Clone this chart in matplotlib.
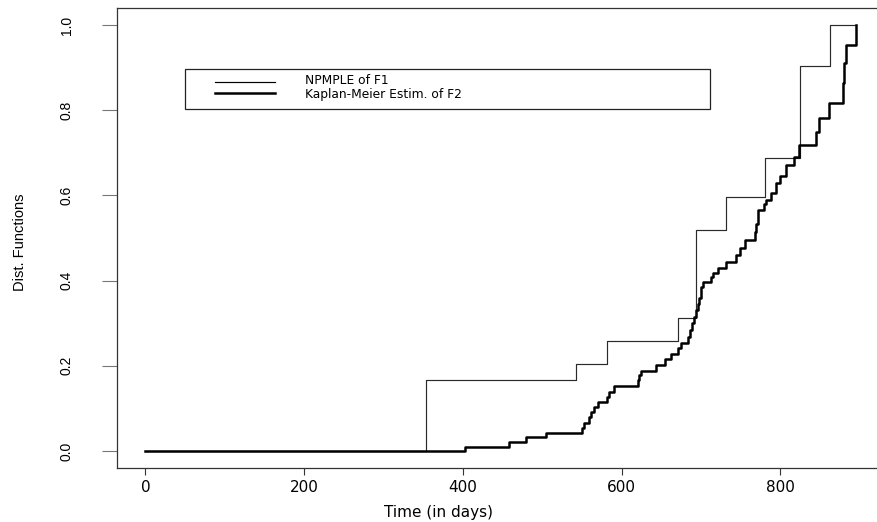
import matplotlib
matplotlib.use("Agg")
import matplotlib.pyplot as plt
from matplotlib.lines import Line2D
from matplotlib.patches import Rectangle

# ---- data ----
npmple_t = [0, 354, 542, 582, 671, 694, 732, 781, 825, 862, 895]
npmple_F = [0.0, 0.1667, 0.204, 0.259, 0.313, 0.519, 0.596, 0.689, 0.905, 1.0, 1.0]

km_t = [0, 403, 458, 479, 505, 550, 553, 558.6, 561.5, 565.7, 570, 581.7, 584.6,
        589.7, 620.3, 622.4, 624.5, 643.4, 654.8, 661.5, 670.7, 674.9, 683.2,
        686.3, 688.5, 690.6, 693, 695.5, 697.4, 699.3, 700.5, 703, 712.7, 714.8,
        721, 731.6, 744.2, 748.4, 754.7, 767.3, 769.4, 771.4, 779.8, 782, 788.3,
        794.6, 800, 807.2, 817.6, 823.9, 845, 849, 861.7, 878.5, 880.6, 882.7, 895.3]
km_F = [0.0, 0.0101, 0.0204, 0.032, 0.043, 0.055, 0.065, 0.079, 0.092, 0.104, 0.116,
        0.1275, 0.139, 0.1526, 0.1667, 0.178, 0.1886, 0.2019, 0.215, 0.2277, 0.241,
        0.2528, 0.268, 0.284, 0.30, 0.315, 0.33, 0.345, 0.36, 0.372, 0.384, 0.397,
        0.409, 0.417, 0.429, 0.444, 0.460, 0.476, 0.495, 0.513, 0.532, 0.566, 0.581,
        0.589, 0.605, 0.628, 0.645, 0.671, 0.691, 0.718, 0.750, 0.781, 0.816, 0.863,
        0.910, 0.953, 1.0]

x_ticks = [0, 200, 400, 600, 800]
y_ticks = [0.0, 0.2, 0.4, 0.6, 0.8, 1.0]
y_ticklabels = ["0.0", "0.2", "0.4", "0.6", "0.8", "1.0"]
legend_labels = ["NPMPLE of F1", "Kaplan-Meier Estim. of F2"]
x_label = "Time (in days)"
y_label = "Dist. Functions"

# ---- figure ----
W, H = 877, 522
fig = plt.figure(figsize=(W / 100, H / 100), dpi=100)

xmin, xmax = 0, max(max(npmple_t), max(km_t))
pad = 0.04 * (xmax - xmin)
xl = (xmin - pad, xmax + pad)
yl = (-0.04, 1.04)

px_per_day = 0.7938
left_px, top_px, bot_px = 117, 8, 468
width_px = (xl[1] - xl[0]) * px_per_day
ax = fig.add_axes([left_px / W, 1 - bot_px / H, width_px / W, (bot_px - top_px) / H])
ax.set_xlim(*xl)
ax.set_ylim(*yl)

ax.plot(npmple_t, npmple_F, drawstyle="steps-post", color="#2a2a2a", lw=0.85)
ax.plot(km_t, km_F, drawstyle="steps-post", color="black", lw=1.8)

for s in ax.spines.values():
    s.set_color("#333333")
    s.set_linewidth(0.9)
ax.spines["right"].set_visible(False)

ax.set_xticks(x_ticks)
ax.set_xticklabels([str(v) for v in x_ticks], fontsize=11, family="DejaVu Sans")
ax.set_yticks(y_ticks)
ax.set_yticklabels(y_ticklabels, rotation=90, va="center", fontsize=10,
                   family=["Liberation Sans Narrow", "Liberation Sans"])
ax.tick_params(axis="x", direction="out", length=5, width=0.8, color="#333333", pad=4)
ax.tick_params(axis="y", direction="out", length=11, width=0.8, color="#777777", pad=20)

ax.set_xlabel(x_label, fontsize=11, family="DejaVu Sans")
ax.xaxis.set_label_coords(0.5, 1 - 512 / H, transform=fig.transFigure)
ax.xaxis.label.set_va("center")
ax.set_ylabel(y_label, fontsize=10.5, family=["Liberation Sans Narrow", "Liberation Sans"])
ax.yaxis.set_label_coords(20 / W, 1 - 242 / H, transform=fig.transFigure)
ax.yaxis.label.set_va("center")

# ---- legend box ----
def fx(p):
    return p / W

def fy(p):
    return 1 - p / H

fig.add_artist(Rectangle((fx(185), fy(109)), fx(710) - fx(185), fy(69) - fy(109),
                         transform=fig.transFigure, fill=False, edgecolor="#222222", lw=0.9))
for yy, ty, lw, lab in [(81.7, 80.2, 0.85, legend_labels[0]),
                        (93.3, 94.6, 1.8, legend_labels[1])]:
    fig.add_artist(Line2D([fx(215), fx(275)], [fy(yy), fy(yy)], transform=fig.transFigure,
                          color="black", lw=lw))
    fig.text(fx(305), fy(ty), lab, ha="left", va="center", fontsize=8.8,
             family="DejaVu Sans")

fig.savefig("out.png", dpi=100)
